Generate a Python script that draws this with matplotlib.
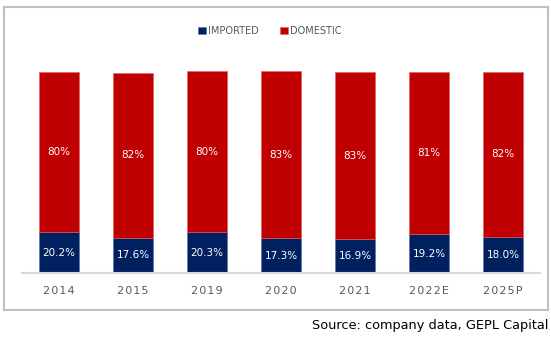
import matplotlib.pyplot as plt
from matplotlib.patches import Rectangle

years = ["2014", "2015", "2019", "2020", "2021", "2022E", "2025P"]
imported = [20.2, 17.6, 20.3, 17.3, 16.9, 19.2, 18.0]
domestic = [80, 82, 80, 83, 83, 81, 82]

NAVY = "#002060"
RED = "#C00000"

W, H = 551, 338
fig = plt.figure(figsize=(W / 100, H / 100), dpi=100)

# outer frame around the chart
fig.patches.append(Rectangle((4 / W, 1 - 310 / H), 544 / W, 303 / H,
                             transform=fig.transFigure, fill=False,
                             edgecolor="#BFBFBF", linewidth=1.5))

ax = fig.add_axes([22 / W, 1 - 273 / H, 518 / W, (273 - 31.8) / H])
x = range(len(years))
b1 = ax.bar(x, imported, width=0.55, color=NAVY, edgecolor="#4F6FA8", linewidth=0.4, label="IMPORTED")
b2 = ax.bar(x, domestic, width=0.55, bottom=imported, color=RED, edgecolor="#E06060", linewidth=0.4, label="DOMESTIC")

for i in x:
    ax.text(i, imported[i] / 2, f"{imported[i]:.1f}%", ha="center", va="center",
            color="white", fontsize=7.5)
    ax.text(i, imported[i] + domestic[i] / 2, f"{domestic[i]}%", ha="center", va="center",
            color="white", fontsize=7.5)

ax.set_xlim(-0.5, len(years) - 0.5)
ax.set_ylim(0, 120)
ax.set_xticks(list(x))
ax.set_xticklabels(["\u200a".join(y) for y in years], color="#595959", fontsize=8)
ax.tick_params(axis="x", length=0, pad=9)
ax.set_yticks([])
for s in ["top", "right", "left"]:
    ax.spines[s].set_visible(False)
ax.spines["bottom"].set_color("#D9D9D9")
ax.spines["bottom"].set_linewidth(1.5)

fig.legend(handles=[b1, b2], loc="center", bbox_to_anchor=(270 / W, 1 - 31 / H),
           ncol=2, frameon=False, fontsize=7, handlelength=0.8, handleheight=0.8,
           handletextpad=0.2, columnspacing=2.2, labelcolor="#595959")

fig.text(548 / W, 1 - 326 / H, "Source: company data, GEPL Capital", ha="right",
         va="center", fontsize=9.3, color="black")

fig.savefig("out.png", dpi=100)
